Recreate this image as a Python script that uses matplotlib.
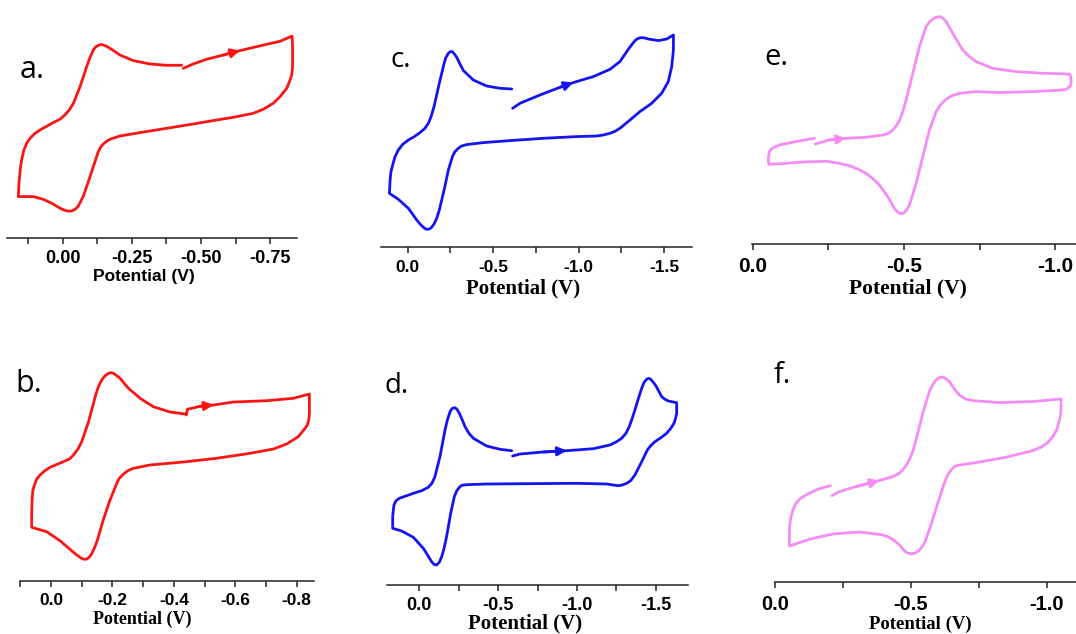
import matplotlib.pyplot as plt

# ---- data: potential (V) and current (arb. units) ----
a_potential = [-0.436, -0.472, -0.520, -0.581, -0.641, -0.737, -0.786, -0.829, -0.831, -0.831,
               -0.828, -0.822, -0.810, -0.786, -0.761, -0.725, -0.689, -0.617, -0.557, -0.472,
               -0.376, -0.280, -0.207, -0.171, -0.159, -0.147, -0.137, -0.129, -0.111, -0.093,
               -0.075, -0.065, -0.057, -0.048, -0.039, -0.029, -0.018, -0.008, 0.004, 0.019,
               0.034, 0.070, 0.106, 0.160, 0.158, 0.155, 0.152, 0.147, 0.140, 0.130,
               0.118, 0.101, 0.082, 0.034, 0.010, -0.008, -0.024, -0.039, -0.063, -0.087,
               -0.099, -0.111, -0.119, -0.129, -0.139, -0.147, -0.159, -0.171, -0.189, -0.207,
               -0.255, -0.316, -0.376, -0.430]
a_current = [17.00, 17.43, 17.90, 18.33, 18.77, 19.40, 19.70, 20.23, 19.17, 17.17,
             16.33, 15.83, 15.00, 14.17, 13.50, 12.90, 12.50, 12.10, 11.83, 11.43,
             11.00, 10.57, 10.23, 9.90, 9.70, 9.43, 9.10, 8.67, 7.17, 5.67,
             4.23, 3.67, 3.23, 2.97, 2.80, 2.72, 2.73, 2.80, 2.93, 3.17,
             3.43, 3.90, 4.17, 4.17, 5.50, 6.33, 7.17, 8.00, 8.83, 9.50,
             10.00, 10.47, 10.83, 11.57, 11.90, 12.33, 12.83, 13.50, 15.17, 17.17,
             18.10, 18.83, 19.13, 19.30, 19.37, 19.33, 19.20, 19.00, 18.67, 18.33,
             17.77, 17.43, 17.30, 17.30]

b_potential = [-0.440, -0.444, -0.485, -0.529, -0.594, -0.702, -0.789, -0.841, -0.841, -0.841,
               -0.839, -0.834, -0.827, -0.805, -0.767, -0.724, -0.648, -0.539, -0.431, -0.322,
               -0.268, -0.250, -0.236, -0.222, -0.214, -0.192, -0.170, -0.151, -0.141, -0.132,
               -0.123, -0.114, -0.104, -0.094, -0.081, -0.067, -0.029, 0.014, 0.063, 0.063,
               0.062, 0.061, 0.059, 0.054, 0.047, 0.036, 0.020, 0.003, -0.040, -0.060,
               -0.073, -0.087, -0.100, -0.122, -0.147, -0.155, -0.165, -0.176, -0.187, -0.195,
               -0.203, -0.214, -0.225, -0.238, -0.252, -0.290, -0.333, -0.387, -0.436]
b_current = [16.60, 17.17, 17.47, 17.60, 17.90, 18.03, 18.27, 18.70, 17.43, 16.77,
             16.10, 15.60, 15.27, 14.43, 13.70, 13.20, 12.77, 12.27, 11.90, 11.60,
             11.27, 11.03, 10.70, 10.27, 9.77, 8.10, 6.10, 4.10, 3.27, 2.70,
             2.33, 2.17, 2.20, 2.37, 2.67, 3.03, 4.03, 4.93, 5.37, 6.77,
             7.77, 8.43, 9.10, 9.60, 10.17, 10.60, 11.03, 11.37, 11.93, 12.20,
             12.60, 13.17, 13.93, 15.93, 18.77, 19.50, 20.10, 20.53, 20.77, 20.83,
             20.77, 20.53, 20.27, 19.77, 19.27, 18.27, 17.43, 16.90, 16.70]

c_potential = [-0.614, -0.657, -0.774, -0.891, -0.969, -1.086, -1.184, -1.242, -1.291, -1.330,
               -1.349, -1.369, -1.388, -1.408, -1.467, -1.516, -1.555, -1.555, -1.545, -1.525,
               -1.486, -1.428, -1.359, -1.301, -1.242, -1.213, -1.184, -1.145, -1.106, -0.989,
               -0.794, -0.599, -0.443, -0.345, -0.316, -0.296, -0.277, -0.263, -0.238, -0.213,
               -0.185, -0.170, -0.154, -0.137, -0.121, -0.105, -0.092, -0.072, -0.053, -0.004,
               0.055, 0.107, 0.105, 0.103, 0.098, 0.088, 0.074, 0.055, 0.029, -0.004,
               -0.039, -0.072, -0.101, -0.121, -0.138, -0.154, -0.185, -0.213, -0.224, -0.238,
               -0.250, -0.261, -0.273, -0.287, -0.306, -0.326, -0.384, -0.462, -0.540, -0.609]
c_current = [13.90, 14.40, 15.23, 16.00, 16.47, 17.07, 17.80, 18.57, 19.80, 20.67,
             20.90, 20.97, 20.93, 20.83, 20.67, 20.83, 21.23, 19.73, 18.07, 16.57,
             15.40, 14.40, 13.57, 12.73, 11.90, 11.60, 11.40, 11.23, 11.13, 11.07,
             10.90, 10.67, 10.47, 10.27, 10.13, 9.90, 9.57, 9.13, 7.73, 5.73,
             3.73, 2.90, 2.33, 1.93, 1.80, 1.83, 2.00, 2.33, 2.73, 3.90,
             4.80, 5.40, 6.07, 6.73, 7.57, 8.23, 9.07, 9.73, 10.30, 10.73,
             11.07, 11.47, 11.90, 12.40, 13.13, 14.07, 16.40, 18.40, 19.00, 19.40,
             19.57, 19.57, 19.33, 19.00, 18.33, 17.67, 16.73, 16.13, 15.90, 15.83]

d_potential = [-0.592, -0.639, -0.787, -0.935, -1.104, -1.210, -1.252, -1.284, -1.311, -1.332,
               -1.351, -1.368, -1.389, -1.411, -1.425, -1.442, -1.455, -1.468, -1.485, -1.502,
               -1.538, -1.559, -1.580, -1.633, -1.633, -1.626, -1.616, -1.594, -1.569, -1.533,
               -1.495, -1.468, -1.447, -1.411, -1.368, -1.341, -1.316, -1.288, -1.263, -1.231,
               -1.189, -0.998, -0.681, -0.427, -0.300, -0.269, -0.254, -0.237, -0.222, -0.199,
               -0.173, -0.157, -0.142, -0.127, -0.110, -0.093, -0.078, -0.055, -0.025, 0.038,
               0.112, 0.169, 0.169, 0.165, 0.161, 0.148, 0.127, 0.080, 0.038, -0.015,
               -0.057, -0.080, -0.099, -0.131, -0.163, -0.178, -0.195, -0.209, -0.226, -0.239,
               -0.254, -0.271, -0.290, -0.315, -0.343, -0.427, -0.512, -0.586]
d_current = [12.90, 13.10, 13.30, 13.43, 13.63, 14.00, 14.33, 14.67, 15.17, 15.83,
             16.67, 17.50, 18.60, 19.67, 20.23, 20.57, 20.67, 20.57, 20.27, 19.90,
             18.83, 18.57, 18.40, 18.23, 17.17, 16.67, 16.17, 15.63, 15.17, 14.73,
             14.33, 13.93, 13.50, 12.33, 11.00, 10.43, 10.17, 10.00, 9.93, 10.00,
             10.10, 10.17, 10.13, 10.10, 10.03, 9.97, 9.77, 9.40, 8.83, 7.17,
             4.83, 3.67, 2.83, 2.27, 2.00, 2.07, 2.33, 2.93, 3.67, 4.77,
             5.40, 5.67, 6.83, 7.50, 8.00, 8.43, 8.67, 8.93, 9.17, 9.43,
             9.77, 10.17, 10.83, 12.83, 15.50, 16.50, 17.33, 17.67, 17.73, 17.57,
             17.17, 16.57, 15.83, 15.17, 14.67, 13.90, 13.57, 13.43]

e_potential = [-0.207, -0.253, -0.308, -0.375, -0.430, -0.449, -0.463, -0.475, -0.485, -0.496,
               -0.507, -0.529, -0.551, -0.573, -0.584, -0.595, -0.606, -0.619, -0.630, -0.639,
               -0.650, -0.661, -0.678, -0.694, -0.716, -0.738, -0.793, -0.870, -0.958, -1.046,
               -1.051, -1.052, -1.049, -1.038, -1.024, -0.925, -0.815, -0.738, -0.683, -0.659,
               -0.639, -0.620, -0.606, -0.584, -0.562, -0.540, -0.518, -0.510, -0.501, -0.492,
               -0.485, -0.477, -0.468, -0.457, -0.446, -0.419, -0.397, -0.375, -0.347, -0.319,
               -0.281, -0.242, -0.165, -0.099, -0.053, -0.052, -0.053, -0.057, -0.066, -0.088,
               -0.143, -0.204]
e_current = [10.03, 10.43, 10.60, 10.70, 10.93, 11.10, 11.43, 11.87, 12.37, 13.27,
             14.43, 17.10, 19.77, 21.77, 22.23, 22.53, 22.70, 22.77, 22.57, 22.27,
             21.70, 21.10, 20.23, 19.43, 18.77, 18.27, 17.60, 17.27, 17.10, 17.03,
             16.77, 16.27, 15.83, 15.53, 15.43, 15.27, 15.17, 15.27, 15.10, 14.87,
             14.50, 13.93, 13.27, 11.43, 8.77, 6.10, 3.93, 3.50, 3.17, 3.07,
             3.10, 3.30, 3.60, 4.20, 4.77, 5.93, 6.57, 7.10, 7.53, 7.87,
             8.13, 8.30, 8.23, 8.07, 8.00, 8.43, 8.93, 9.37, 9.63, 9.93,
             10.27, 10.60]

f_potential = [-0.210, -0.237, -0.298, -0.384, -0.433, -0.454, -0.470, -0.483, -0.494, -0.507,
               -0.519, -0.544, -0.568, -0.580, -0.593, -0.605, -0.617, -0.629, -0.642, -0.660,
               -0.679, -0.701, -0.728, -0.826, -0.948, -1.053, -1.053, -1.052, -1.045, -1.037,
               -1.022, -1.004, -0.979, -0.948, -0.850, -0.740, -0.679, -0.660, -0.648, -0.634,
               -0.623, -0.599, -0.574, -0.550, -0.537, -0.525, -0.513, -0.501, -0.488, -0.476,
               -0.458, -0.439, -0.415, -0.390, -0.310, -0.212, -0.126, -0.053, -0.053, -0.053,
               -0.055, -0.059, -0.066, -0.077, -0.093, -0.114, -0.157, -0.204]
f_current = [8.67, 9.07, 9.57, 10.17, 10.57, 10.83, 11.23, 11.70, 12.23, 13.07,
             14.23, 16.90, 19.07, 19.73, 20.23, 20.47, 20.53, 20.37, 20.07, 19.33,
             18.73, 18.33, 18.17, 17.97, 18.07, 18.33, 17.57, 16.90, 16.00, 15.23,
             14.57, 13.97, 13.50, 13.17, 12.50, 11.97, 11.73, 11.57, 11.23, 10.63,
             9.90, 7.90, 5.73, 3.90, 3.40, 3.07, 2.90, 2.83, 2.93, 3.17,
             3.73, 4.17, 4.57, 4.77, 5.03, 4.83, 4.30, 3.63, 4.57, 5.23,
             5.90, 6.57, 7.23, 7.90, 8.37, 8.73, 9.30, 9.67]

ticks_025 = [0.0, -0.25, -0.5, -0.75]
labels_025 = ['0.00', '-0.25', '-0.50', '-0.75']
ticks_02 = [0.0, -0.2, -0.4, -0.6, -0.8]
labels_02 = ['0.0', '-0.2', '-0.4', '-0.6', '-0.8']
ticks_05_long = [0.0, -0.5, -1.0, -1.5]
labels_05_long = ['0.0', '-0.5', '-1.0', '-1.5']
ticks_05 = [0.0, -0.5, -1.0]
labels_05 = ['0.0', '-0.5', '-1.0']

RED = '#fa1414'
BLUE = '#1414f0'
PINK = '#f58cf5'

W, H = 1076, 634
fig = plt.figure(figsize=(W / 100, H / 100), dpi=100)


def panel(left, right, axis_y, xlim, pot, cur, color, arrow_i,
          ticks, labels, minor, tick_size, pad):
    ax = fig.add_axes([left / W, 1 - axis_y / H, (right - left) / W, 230 / H])
    ax.patch.set_alpha(0)
    for s in ['left', 'top', 'right']:
        ax.spines[s].set_visible(False)
    ax.spines['bottom'].set_linewidth(1.1)
    ax.spines['bottom'].set_color('#222222')
    ax.set_yticks([])
    ax.set_xlim(*xlim)
    ax.set_ylim(0, 23)
    ax.set_xticks(ticks)
    ax.set_xticklabels(labels, fontfamily='Liberation Sans', fontweight='bold', fontsize=tick_size)
    ax.set_xticks(minor, minor=True)
    ax.tick_params(axis='x', which='both', direction='out', length=4, width=1.1,
                   color='#222222', pad=pad)
    ax.plot(pot, cur, color=color, lw=2.0, solid_capstyle='round', solid_joinstyle='round')
    ax.annotate('', xy=(pot[arrow_i + 1], cur[arrow_i + 1]), xytext=(pot[arrow_i], cur[arrow_i]),
                arrowprops=dict(arrowstyle='-|>', color=color, lw=2.0, mutation_scale=13,
                                shrinkA=0, shrinkB=0))
    return ax


panel(7.3, 296.7, 238.3, (0.200, -0.846), a_potential, a_current, RED, 3,
      ticks_025, labels_025, [0.125, -0.125, -0.375, -0.625], 13, 4.5)
panel(20, 314.3, 581, (0.101, -0.857), b_potential, b_current, RED, 2,
      ticks_02, labels_02, [0.1, -0.1, -0.3, -0.5, -0.7], 12.5, 4.5)
panel(380.7, 691.7, 247.3, (0.158, -1.662), c_potential, c_current, BLUE, 3,
      ticks_05_long, labels_05_long, [-0.25, -0.75, -1.25], 12.5, 5.5)
panel(386.7, 687.7, 585, (0.207, -1.703), d_potential, d_current, BLUE, 2,
      ticks_05_long, labels_05_long, [-0.25, -0.75, -1.25], 13, 4.5)
panel(752, 1076, 244.3, (0.002, -1.068), e_potential, e_current, PINK, 1,
      ticks_05, labels_05, [-0.25, -0.75], 15, 5)
panel(775, 1076, 582.3, (0.0, -1.108), f_potential, f_current, PINK, 2,
      ticks_05, labels_05, [-0.25, -0.75], 14.5, 5)

# axis titles
xlabels = [(144, 277, 'Liberation Sans', 12.5),
           (142.5, 619, 'Liberation Serif', 13),
           (523, 288, 'Liberation Serif', 15),
           (525.5, 623, 'Liberation Serif', 15),
           (907.5, 288, 'Liberation Serif', 15.5),
           (920, 624, 'Liberation Serif', 13.5)]
for x, y, fam, size in xlabels:
    fig.text(x / W, 1 - y / H, 'Potential (V)', ha='center', va='center',
             fontfamily=fam, fontweight='bold', fontsize=size)

# panel letters
letters = [('a.', 20, 78, 22), ('b.', 15, 392, 22), ('c.', 390, 67, 20),
           ('d.', 385, 393, 20), ('e.', 764, 65, 21), ('f.', 774, 383, 21)]
for t, x, y, size in letters:
    fig.text(x / W, 1 - y / H, t, ha='left', va='baseline',
             fontfamily='Open Sans', fontsize=size, color='black')

fig.savefig('out.png', dpi=100)
